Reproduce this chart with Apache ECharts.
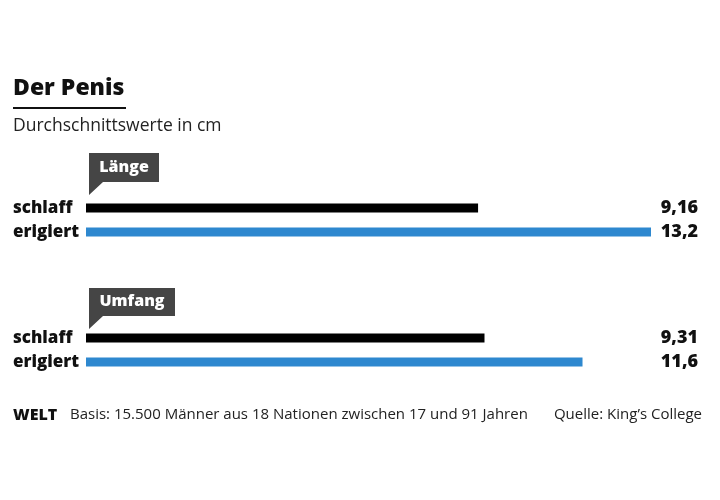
<!DOCTYPE html>
<html>
<head>
<meta charset="utf-8">
<script src="https://cdn.jsdelivr.net/npm/echarts@6/dist/echarts.min.js"></script>
<style>html,body{margin:0;padding:0;background:#fff}#c{width:720px;height:500px}</style>
</head>
<body>
<div id="c"></div>
<script>
var categories = ['schlaff', 'erigiert'];
var groups = ['Länge', 'Umfang'];
var laengeValues = [9.16, 13.2];
var umfangValues = [9.31, 11.6];
var axisMax = 13.2;

var FONT = 'Open Sans';
var colors = ['#000000', '#2e88cf'];

function fmt(v) { return String(v).replace('.', ','); }

function makeAxes(gi, values) {
  return [
    {
      type: 'category', gridIndex: gi, data: categories, inverse: true,
      axisLine: {show: false}, axisTick: {show: false},
      axisLabel: {align: 'left', margin: 73, fontFamily: FONT, fontWeight: 800, fontSize: 17, color: '#111'}
    },
    {
      type: 'category', gridIndex: gi, data: values.map(fmt), inverse: true, position: 'right',
      axisLine: {show: false}, axisTick: {show: false},
      axisLabel: {align: 'right', margin: 47, fontFamily: FONT, fontWeight: 800, fontSize: 18, color: '#111'}
    }
  ];
}

var chart = echarts.init(document.getElementById('c'));
var option = {
  animation: false,
  backgroundColor: '#fff',
  title: {
    text: 'Der Penis', left: 8, top: 72,
    textStyle: {fontFamily: FONT, fontWeight: 800, fontSize: 23, color: '#111'}
  },
  grid: [
    {left: 86, right: 69, top: 196, height: 48},
    {left: 86, right: 69, top: 326, height: 48}
  ],
  xAxis: [
    {type: 'value', gridIndex: 0, min: 0, max: axisMax, show: false},
    {type: 'value', gridIndex: 1, min: 0, max: axisMax, show: false}
  ],
  yAxis: makeAxes(0, laengeValues).concat(makeAxes(1, umfangValues)),
  series: [
    {type: 'bar', xAxisIndex: 0, yAxisIndex: 0, barWidth: 9,
     data: laengeValues.map(function (v, i) { return {value: v, itemStyle: {color: colors[i]}}; })},
    {type: 'bar', xAxisIndex: 1, yAxisIndex: 2, barWidth: 9,
     data: umfangValues.map(function (v, i) { return {value: v, itemStyle: {color: colors[i]}}; })}
  ],
  graphic: [
    {type: 'rect', shape: {x: 13, y: 107, width: 113, height: 2}, style: {fill: '#111'}},
    {type: 'text', left: 13, top: 117, style: {text: 'Durchschnittswerte in cm', fontFamily: FONT, fontSize: 17.5, fill: '#222'}},
    // Länge callout
    {type: 'polygon', shape: {points: [[89,153],[159,153],[159,182],[103,182],[89,195],[89,182]]}, style: {fill: '#454545'}},
    {type: 'text', x: 124, y: 167, style: {text: groups[0], fontFamily: FONT, fontWeight: 800, fontSize: 16, fill: '#fff', align: 'center', verticalAlign: 'middle'}},
    // Umfang callout
    {type: 'polygon', shape: {points: [[89,288],[175,288],[175,316],[103,316],[89,329],[89,316]]}, style: {fill: '#454545'}},
    {type: 'text', x: 132, y: 301, style: {text: groups[1], fontFamily: FONT, fontWeight: 800, fontSize: 16, fill: '#fff', align: 'center', verticalAlign: 'middle'}},
    // footer
    {type: 'text', left: 13, top: 407, style: {text: 'WELT', fontFamily: FONT, fontWeight: 800, fontSize: 16, fill: '#111'}},
    {type: 'text', left: 70, top: 407, style: {text: 'Basis: 15.500 Männer aus 18 Nationen zwischen 17 und 91 Jahren', fontFamily: FONT, fontSize: 15, fill: '#222'}},
    {type: 'text', right: 18, top: 407, style: {text: 'Quelle: King’s College', fontFamily: FONT, fontSize: 15, fill: '#222'}}
  ]
};
chart.setOption(option);
</script>
</body>
</html>
